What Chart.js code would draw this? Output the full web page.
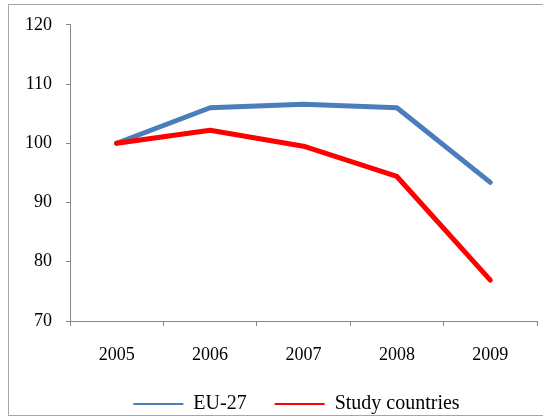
<!DOCTYPE html>
<html lang="en">
<head>
    <meta charset="UTF-8">
    <title>EU-27 vs Study countries</title>
    <script src="https://cdn.jsdelivr.net/npm/chart.js@4.4.0/dist/chart.umd.min.js"></script>
    <style>
        html,body{margin:0;padding:0;background:#fff;overflow:hidden;}
        #wrap{position:relative;width:543px;height:418px;}
        #frame{position:absolute;left:8px;top:4px;width:600px;height:412px;border:1px solid #a6a6a6;box-sizing:border-box;pointer-events:none;}
    </style>
</head>
<body>
    <div id="wrap">
        <canvas id="chart"></canvas>
        <div id="frame"></div>
    </div>

    <script>
        const years=["2005","2006","2007","2008","2009"];
        const eu27=[100,106,106.6,106,93.4];
        const studyCountries=[100,102.2,99.5,94.4,76.9];
        const yMin=70, yMax=120, yStep=10;

        const axisColor="#868686";
        const serif="'Liberation Serif', 'Times New Roman', serif";
        const font={family:serif,size:18};

        // legend sits a little left of the plot centre in the original
        const shiftLegend={
            id:"shiftLegend",
            afterLayout(chart){
                chart.legend.left-=7;
                chart.legend.right-=7;
            }
        };

        const chart=new Chart(document.getElementById("chart"),{
            type:"line",
            data:{
                labels:years,
                datasets:[
                    {label:"EU-27",data:eu27,borderColor:"#4a7ebb",backgroundColor:"#4a7ebb",order:1},
                    {label:"Study countries",data:studyCountries,borderColor:"#ff0000",backgroundColor:"#ff0000",order:0}
                ]
            },
            options:{
                responsive:true,
                maintainAspectRatio:false,
                animation:false,
                layout:{padding:{left:0,right:6,top:22,bottom:0}},
                elements:{
                    line:{borderWidth:5,tension:0,borderCapStyle:"round",borderJoinStyle:"round"},
                    point:{radius:0,hoverRadius:0}
                },
                scales:{
                    x:{
                        offset:true,
                        grid:{offset:true,drawOnChartArea:false,drawTicks:true,tickLength:5,color:axisColor},
                        border:{color:axisColor,width:1},
                        ticks:{color:"#000",font:font,padding:18,maxRotation:0},
                        afterFit(scale){scale.height=45;}
                    },
                    y:{
                        min:yMin,max:yMax,
                        grid:{drawOnChartArea:false,drawTicks:true,tickLength:4,color:axisColor},
                        border:{color:axisColor,width:1},
                        ticks:{color:"#000",font:font,padding:14,stepSize:yStep},
                        afterFit(scale){scale.width=70;}
                    }
                },
                plugins:{
                    tooltip:{enabled:false},
                    legend:{
                        position:"bottom",
                        fullSize:false,
                        maxHeight:52,
                        labels:{
                            color:"#000",
                            font:{family:serif,size:20},
                            boxWidth:50,
                            boxHeight:2,
                            padding:28,
                            sort:(a,b)=>a.datasetIndex-b.datasetIndex,
                            generateLabels(chart){
                                const items=Chart.defaults.plugins.legend.labels.generateLabels(chart);
                                items.forEach(i=>{i.lineWidth=0;i.fillStyle=i.strokeStyle;});
                                return items;
                            }
                        }
                    }
                }
            },
            plugins:[shiftLegend]
        });
    </script>
</body>
</html>
